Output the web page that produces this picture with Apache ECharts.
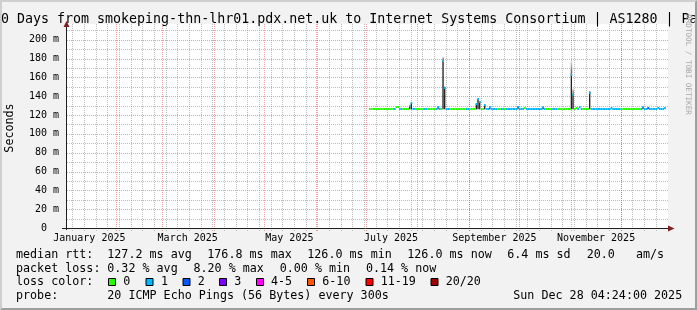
<!DOCTYPE html>
<html><head><meta charset="utf-8">
<script src="https://cdn.jsdelivr.net/npm/echarts@6/dist/echarts.min.js"></script>
<style>html,body{margin:0;padding:0;background:#f2f2f2;overflow:hidden}#c{width:697px;height:310px}</style>
</head><body><div id="c"></div>
<script>
// ---------------- data ----------------
const titleText = '360 Days from smokeping-thn-lhr01.pdx.net.uk to Internet Systems Consortium | AS1280 | Pa';
const endTime = '2025-12-28T04:24';
const firstDay = '2025-07-03';
// daily median rtt (ms) from firstDay on
const median = [
126,126,126,126,126,126,126,126,126,126,126,126,126,126,126,
126,129,129,126,126,
126,126,126,126,130,133,126,126,
126,126,126,126,126,126,126,
126,126,126,126,126,126,128,126,126,
177,149,126,126,
126,126,126,126,126,126,126,126,126,126,
126,126,126,126,126,126,
132,137,134,126,126,131,126,126,129,
126,126,126,126,126,126,126,126,126,
126,126,126,126,126,126,126,129,126,126,126,127.5,
126,126,126,126,126,126,126,126,126,126,128.5,126,
126,126,126,126,126,126,126,
126,126,126,126,126,126,126,126,
163,141,126,127,126,128.5,126,
126,126,126,126,143,
126,126,126,126,126,126,126,126,126,126,126,126,127,
126,126,126,126,126,
126,126,126,126,126,126,126,126,126,126,126,126,
126,129,126,126,127,126,126,126,126,126,127,126,126,126,127,126
];
// lost pings (index into lossColors)
const loss = [
0,0,0,0,0,0,0,0,0,0,0,0,0,0,0,
1,0,0,1,1,
0,0,0,0,1,1,1,1,
0,0,0,0,0,1,1,
0,0,0,0,0,1,1,1,0,
1,1,1,1,
0,0,0,0,0,0,0,0,0,0,
1,1,0,0,0,0,
1,1,1,0,0,1,1,1,1,
1,1,1,1,0,0,1,1,0,
1,1,1,1,1,1,1,1,1,1,1,0,
1,1,1,1,1,1,1,1,1,1,1,1,
0,0,0,0,1,1,1,
0,0,0,0,0,0,0,0,
1,1,0,0,1,1,1,
0,0,0,0,1,
1,1,1,1,1,1,1,1,1,1,1,1,1,
1,1,1,1,1,
0,0,0,0,0,0,0,0,0,0,0,0,
1,1,1,1,2,1,1,1,1,1,1,1,1,1,1,1
];
// smoke (ping spread) where visible
const smokeDate  = ['2025-07-27','2025-07-28','2025-08-13','2025-08-16','2025-08-17','2025-09-05','2025-09-06','2025-09-07','2025-09-10','2025-09-13','2025-09-30','2025-10-15','2025-11-01','2025-11-02','2025-11-12','2025-12-14','2025-12-17'];
const smokeLow   = [126,126,126,126,126,126,126,126,126,126,126,126,126,126,126,126,126];
const smokeHigh  = [130,133,128,178,150,132,137,135,131,129,129,128.5,164,142,145,129,127.5];
const smokeFaint = [null,null,null,182,null,null,null,null,null,null,null,null,177,148,null,null,null];

const monthStarts = ['2025-02-01','2025-03-01','2025-04-01','2025-05-01','2025-06-01','2025-07-01','2025-08-01','2025-09-01','2025-10-01','2025-11-01','2025-12-01'];
const monthLabelStarts = ['2025-01-01','2025-03-01','2025-05-01','2025-07-01','2025-09-01','2025-11-01'];
const monthLabels = ['January 2025','March 2025','May 2025','July 2025','September 2025','November 2025'];
const yLabelValues = [0,20,40,60,80,100,120,140,160,180,200];

const lossColors = ['#26ff00','#00b8ff','#0059ff','#7e00ff','#ff00ff','#ff5500','#ff0000','#a00000'];
const lossNames  = ['0','1','2','3','4-5','6-10','11-19','20/20'];
const rttStats   = ['127.2 ms avg','176.8 ms max','126.0 ms min','126.0 ms now','6.4 ms sd','20.0','am/s'];
const lossStats  = ['0.32 % avg','8.20 % max','0.00 % min','0.14 % now'];
const probeText  = '20 ICMP Echo Pings (56 Bytes) every 300s';
const stampText  = 'Sun Dec 28 04:24:00 2025';

// ---------------- helpers ----------------
const DAY0 = Date.UTC(2025,0,1);
function dayNum(s){ const [dt,tm] = s.split('T'); const [y,m,d] = dt.split('-').map(Number);
  let v = (Date.UTC(y,m-1,d)-DAY0)/864e5; if (tm){ const [h,mi]=tm.split(':').map(Number); v += (h*60+mi)/1440; } return v; }
const endD = dayNum(endTime), startD = endD - 360;
const first = dayNum(firstDay);
const medData = median.map((v,i)=>[first+i, v, loss[i]]);
const smokeData = smokeDate.map((s,i)=>[dayNum(s), smokeLow[i], smokeHigh[i], smokeFaint[i]==null?NaN:smokeFaint[i]]);
// weekly minor grid (Mondays) and monthly major grid
const vgrid = [];
for (let d = Math.ceil(startD); d <= endD; d++){ const wd = new Date(DAY0 + d*864e5).getUTCDay(); if (wd===1) vgrid.push([d,0]); }
monthStarts.forEach(s=>vgrid.push([dayNum(s),1]));
const hgrid = []; for (let v=10; v<=210; v+=10) hgrid.push([startD, v, (v%20===0)?1:0]);
const labelDays = monthLabelStarts.map(s=>dayNum(s)+15.2);

const MONO = 'DejaVu Sans Mono';
const GRID_MINOR = 'rgba(143,143,143,0.6)';
const GRID_MAJOR = 'rgba(222,79,79,0.55)';

const chart = echarts.init(document.getElementById('c'), null, {renderer:'canvas', width:697, height:310});

// ---------------- graphic (frame, texts) ----------------
const g = [];
g.push({type:'rect', z:-20, shape:{x:66, y:24, width:602, height:204}, style:{fill:'#ffffff'}, silent:true});
g.push({type:'polygon', z:200, shape:{points:[[0,310],[2,308],[2,2],[695,2],[697,0],[0,0]]}, style:{fill:'#cfcfcf'}, silent:true});
g.push({type:'polygon', z:200, shape:{points:[[2,308],[695,308],[695,2],[697,0],[697,310],[0,310]]}, style:{fill:'#9e9e9e'}, silent:true});
// axes lines and arrows
g.push({type:'line', z:150, shape:{x1:66.5, y1:230, x2:66.5, y2:25}, style:{stroke:'#1f1f1f', lineWidth:1}, silent:true});
g.push({type:'line', z:150, shape:{x1:62, y1:228.5, x2:669, y2:228.5}, style:{stroke:'#1f1f1f', lineWidth:1}, silent:true});
g.push({type:'polygon', z:151, shape:{points:[[66.5,21],[63.5,27],[69.5,27]]}, style:{fill:'#801f1f'}, silent:true});
g.push({type:'polygon', z:151, shape:{points:[[674.5,228.5],[668,225.5],[668,231.5]]}, style:{fill:'#801f1f'}, silent:true});
// title (overflows canvas on both sides)
g.push({type:'text', z:160, x:-15, y:20, style:{text:titleText, font:'13.3px "DejaVu Sans Mono"', fill:'#000', align:'left', verticalAlign:'middle'}, silent:true});
// y title
g.push({type:'text', z:160, x:10, y:128, rotation:Math.PI/2, style:{text:'Seconds', font:'11.7px "DejaVu Sans Mono"', fill:'#000', align:'center', verticalAlign:'middle'}, silent:true});
// credit
g.push({type:'text', z:160, x:687.5, y:64.5, rotation:-Math.PI/2, style:{text:'RRDTOOL / TOBI OETIKER', font:'7.6px "DejaVu Sans Mono"', fill:'#a8a8a8', align:'center', verticalAlign:'middle'}, silent:true});
// legend rows
const LF = '11.7px "DejaVu Sans Mono"';
const rowY = [254.9, 268.5, 282.1, 295.7];
function txt(x,y,t){ g.push({type:'text', z:160, x:x, y:y, style:{text:t, font:LF, fill:'#000', align:'left', verticalAlign:'middle'}, silent:true}); }
txt(16,rowY[0],'median rtt:');
[107.3,207.3,307.3,407.3,507.3,586.7,636].forEach((x,i)=>txt(x,rowY[0],rttStats[i]));
txt(16,rowY[1],'packet loss:');
[107.3,193.5,279.7,365.9].forEach((x,i)=>txt(x,rowY[1],lossStats[i]));
txt(16,rowY[2],'loss color:');
const boxX = [108.5,146,183,219.5,256.5,307.5,366,431];
const labX = [123.3,161,197.7,234.3,271,322.3,380.7,445.7];
lossNames.forEach((n,i)=>{
  g.push({type:'rect', z:160, shape:{x:boxX[i], y:278.5, width:7, height:7}, style:{fill:lossColors[i], stroke:'#000', lineWidth:1}, silent:true});
  txt(labX[i], rowY[2], n);
});
txt(16,rowY[3],'probe:');
txt(107.3,rowY[3],probeText);
txt(513.3,rowY[3],stampText);

// ---------------- option ----------------
chart.setOption({
  animation:false,
  backgroundColor:'#f2f2f2',
  grid:{left:66, top:28, width:600, height:200, containLabel:false},
  xAxis:{type:'value', min:startD, max:endD,
    axisLine:{show:false}, axisTick:{show:false}, splitLine:{show:false},
    axisLabel:{customValues:labelDays, showMinLabel:true, showMaxLabel:true, hideOverlap:false,
      formatter:(v)=>{ let k=-1, best=1e9; labelDays.forEach((d,i)=>{ if(Math.abs(d-v)<best){best=Math.abs(d-v);k=i;} }); return monthLabels[k]; },
      fontFamily:MONO, fontSize:10, color:'#000', margin:5}},
  yAxis:{type:'value', min:0, max:212.4, interval:20,
    axisLine:{show:false}, axisTick:{show:false}, splitLine:{show:false},
    axisLabel:{formatter:(v)=> v===0 ? '0  ' : (yLabelValues.indexOf(v)>=0 ? v+' m' : ''),
      fontFamily:MONO, fontSize:10, color:'#000', margin:7}},
  graphic:g,
  series:[
    {type:'custom', name:'hgrid', silent:true, data:hgrid, z:1,
      renderItem:(params, api)=>{ const cs=params.coordSys; const y=Math.round(api.coord([api.value(0), api.value(1)])[1])+0.5;
        return {type:'line', shape:{x1:cs.x+1, y1:y, x2:cs.x+cs.width+2, y2:y}, style:{stroke: api.value(2)?GRID_MAJOR:GRID_MINOR, lineWidth:1, lineDash:[1,1]}}; }},
    {type:'custom', name:'vgrid', silent:true, data:vgrid, z:1,
      renderItem:(params, api)=>{ const cs=params.coordSys; const x=Math.round(api.coord([api.value(0), 0])[0])+0.5;
        return {type:'line', shape:{x1:x, y1:cs.y-4, x2:x, y2:cs.y+cs.height+3}, style:{stroke: api.value(1)?GRID_MAJOR:GRID_MINOR, lineWidth:1, lineDash:[1,1]}}; }},
    {type:'custom', name:'smoke', silent:true, data:smokeData, z:3, clip:true,
      renderItem:(params, api)=>{ const d=api.value(0); const a=api.coord([d, api.value(1)]), b=api.coord([d, api.value(2)]);
        const w=api.size([1,0])[0]; const ch=[{type:'rect', shape:{x:a[0], y:b[1], width:w*0.8, height:a[1]-b[1]}, style:{fill:'#202020'}}];
        const f=api.value(3); if(!isNaN(f)){ const c=api.coord([d,f]); ch.push({type:'rect', shape:{x:a[0], y:c[1], width:w*0.9, height:b[1]-c[1]},
          style:{fill:new echarts.graphic.LinearGradient(0,0,0,1,[{offset:0,color:'#d8d8d8'},{offset:1,color:'#555'}])}}); }
        return {type:'group', children:ch}; }},
    {type:'custom', name:'median', silent:true, data:medData, z:4, clip:true,
      renderItem:(params, api)=>{ const d=api.value(0), v=api.value(1); const p0=api.coord([d, v]), p1=api.coord([d+1, v]);
        return {type:'rect', shape:{x:p0[0], y:Math.round(p0[1])-1, width:p1[0]-p0[0], height:2}, style:{fill:lossColors[api.value(2)]}}; }}
  ]
});
</script></body></html>
